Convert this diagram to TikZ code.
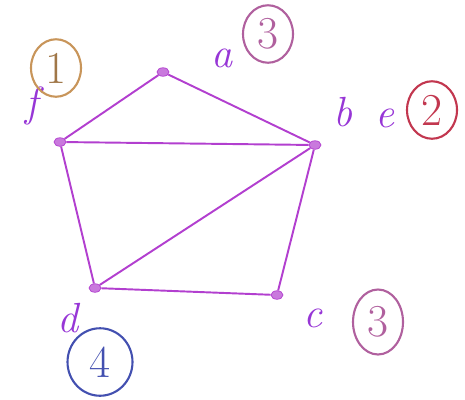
\documentclass[tikz,border=0pt]{standalone}
\usepackage{tikz}
\usetikzlibrary{shapes.geometric}
\definecolor{penpurple}{HTML}{B23FCF}
\definecolor{inkorange}{HTML}{C8955A}
\definecolor{inkred}{HTML}{C2374F}
\definecolor{inkpink}{HTML}{B0609E}
\definecolor{inkblue}{HTML}{4350B0}

\begin{document}
\begin{tikzpicture}[
      x=0.02cm, y=-0.02cm,
      vert/.style={
        ellipse,
        draw=penpurple,
        fill=penpurple!70,
        inner sep=0pt,
        minimum width=0.24cm,
        minimum height=0.17cm
      },
      edge/.style={draw=penpurple,line width=1.1pt},
      lbl/.style={
        text=penpurple!85!blue,
        font=\fontsize{24}{26}\selectfont\itshape
      },
      num/.style={
        ellipse,
        line width=1.2pt,
        inner sep=0pt,
        minimum width=1.0cm,
        minimum height=1.15cm,
        font=\fontsize{26}{28}\selectfont
      }
    ]
    \useasboundingbox (0,0) rectangle (465,399);
    % vertices
    \node[vert] (a) at (163,72) {};
    \node[vert] (f) at (60,142) {};
    \node[vert] (b) at (315,145) {};
    \node[vert] (d) at (95,288) {};
    \node[vert] (c) at (277,295) {};
    % edges
    \draw[edge] (a) -- (f);
    \draw[edge] (a) -- (b);
    \draw[edge] (f) -- (b);
    \draw[edge] (f) -- (d);
    \draw[edge] (d) -- (b);
    \draw[edge] (d) -- (c);
    \draw[edge] (c) -- (b);
    % names
    \node[lbl] (la) at (222,58) {a};
    \node[lbl] (lf) at (32,106) {f};
    \node[lbl] (lb) at (343,112) {b};
    \node[lbl] (le) at (385,118) {e};
    \node[lbl] (ld) at (68,318) {d};
    \node[lbl] (lc) at (313,318) {c};
    % colours
    \node[num,draw=inkpink,text=inkpink] (na) at (268,34) {3};
    \node[num,draw=inkorange,text=inkorange!80!black] (nf) at (56,68) {1};
    \node[num,draw=inkred,text=inkred] (nb) at (432,110) {2};
    \node[num,draw=inkblue,text=inkblue,minimum width=1.3cm,minimum height=1.35cm] (nd) at (100,362) {4};
    \node[num,draw=inkpink,text=inkpink,minimum height=1.3cm] (nc) at (378,322) {3};
  \end{tikzpicture}
\end{document}
